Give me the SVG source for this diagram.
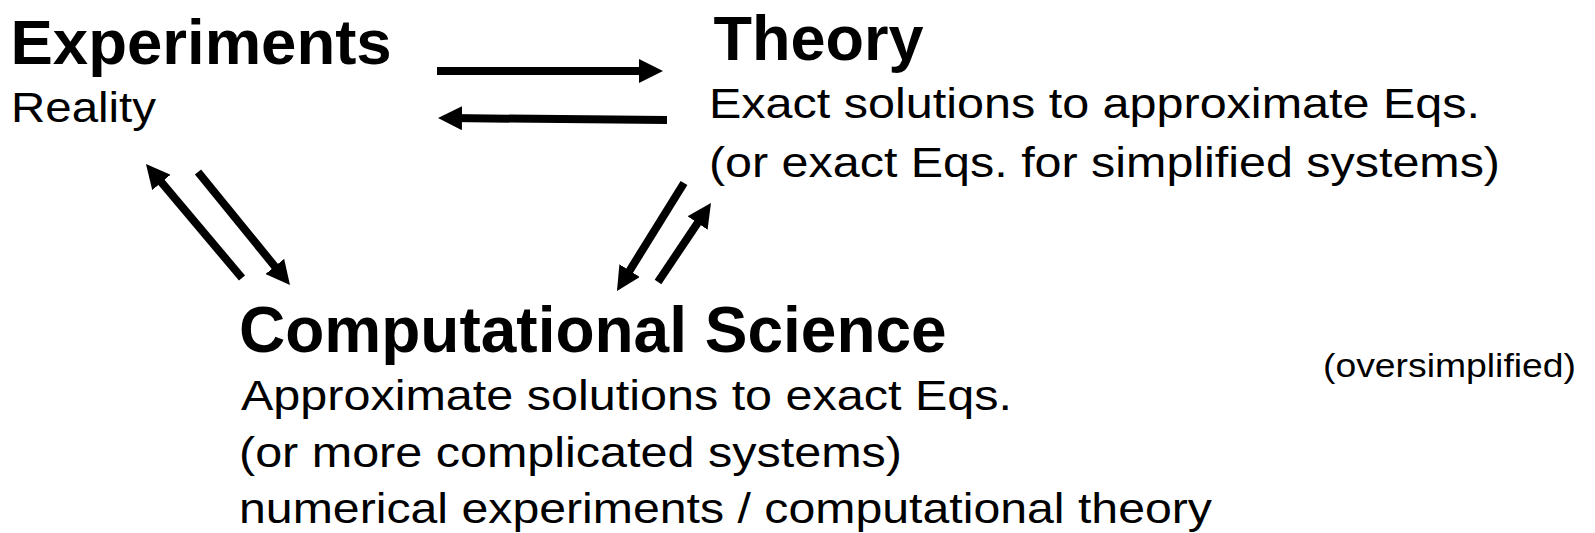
<svg xmlns="http://www.w3.org/2000/svg" width="1595" height="533" viewBox="0 0 1595 533">
  <style>
    .title { font-family: "Liberation Sans", Arial, sans-serif; font-weight: bold; font-size: 63.5px; fill: #000; }
    .body { font-family: "Liberation Sans", Arial, sans-serif; font-size: 43px; fill: #000; }
    .small { font-family: "Liberation Sans", Arial, sans-serif; font-size: 33px; fill: #000; }
    .arrow { stroke: #000; stroke-width: 8; fill: none; marker-end: url(#head); }
  </style>
  <defs>
    <marker id="head" viewBox="0 0 24 24" markerWidth="24" markerHeight="24" refX="12" refY="12" markerUnits="userSpaceOnUse" orient="auto">
      <path d="M0,0 L24,12 L0,24 Z" fill="#000"/>
    </marker>
  </defs>
  <rect width="1595" height="533" fill="#fff"/>

  <g id="experiments">
    <text class="title" x="10.5" y="64">Experiments</text>
    <text class="body" x="11" y="122" textLength="145" lengthAdjust="spacingAndGlyphs">Reality</text>
  </g>

  <g id="theory">
    <text class="title" x="713.5" y="60" style="font-size:63px">Theory</text>
    <text class="body" x="709" y="118" textLength="771" lengthAdjust="spacingAndGlyphs">Exact solutions to approximate Eqs.</text>
    <text class="body" x="709" y="177" textLength="791" lengthAdjust="spacingAndGlyphs">(or exact Eqs. for simplified systems)</text>
  </g>

  <g id="computational">
    <text class="title" x="239" y="352" style="font-size:64px">Computational Science</text>
    <text class="body" x="241" y="410" textLength="771" lengthAdjust="spacingAndGlyphs">Approximate solutions to exact Eqs.</text>
    <text class="body" x="239" y="467" textLength="663" lengthAdjust="spacingAndGlyphs">(or more complicated systems)</text>
    <text class="body" x="239" y="523" textLength="973" lengthAdjust="spacingAndGlyphs">numerical experiments / computational theory</text>
  </g>

  <g id="note">
    <text class="small" x="1323" y="377" textLength="253" lengthAdjust="spacingAndGlyphs">(oversimplified)</text>
  </g>

  <g id="connectors">
    <path class="arrow" d="M437,71 L651,71"/>
    <path class="arrow" d="M667,120 L450,118.1"/>
    <path class="arrow" d="M242,278 L153.7,173.2"/>
    <path class="arrow" d="M198,172 L282.4,275.7"/>
    <path class="arrow" d="M684,183 L623.3,280.8"/>
    <path class="arrow" d="M658,282 L704.3,213"/>
  </g>
</svg>
